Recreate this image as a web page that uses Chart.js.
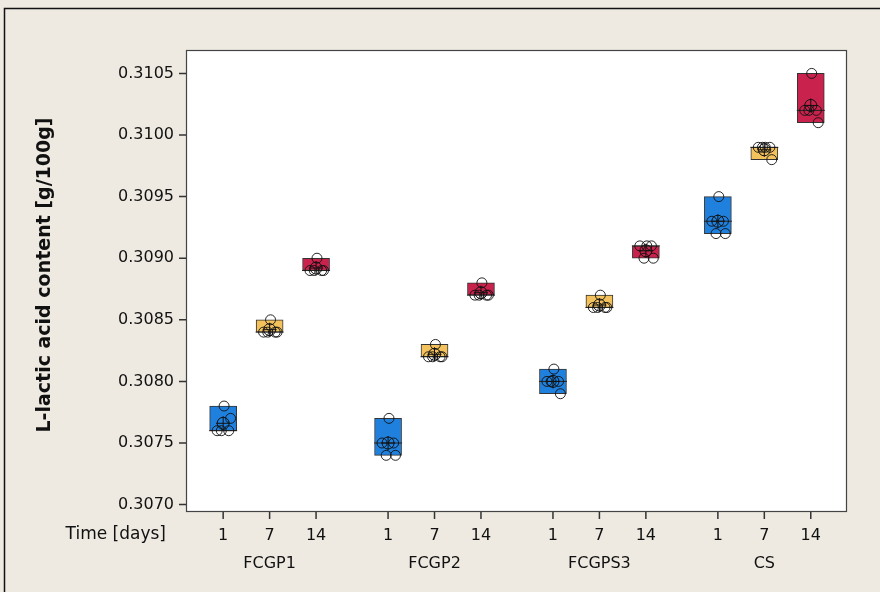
<!DOCTYPE html>
<html>
<head>
<meta charset="utf-8">
<script src="https://cdn.jsdelivr.net/npm/chart.js@4.4.1/dist/chart.umd.min.js"></script>
<style>
  html, body { margin: 0; padding: 0; background: #EEEAE1; }
  #wrap { width: 880px; height: 592px; position: relative; }
</style>
</head>
<body>
<div id="wrap"><canvas id="c" width="880" height="592"></canvas></div>
<script>
// Samples and storage times
const groups = ["FCGP1", "FCGP2", "FCGPS3", "CS"];
const days = ["1", "7", "14"];
const yTicks = [0.3070, 0.3075, 0.3080, 0.3085, 0.3090, 0.3095, 0.3100, 0.3105];

// Individual measurements, one list per sample (days 1, 7, 14)
const FCGP1 = [
  [0.3078, 0.3076, 0.3076, 0.3076, 0.3077],
  [0.3085, 0.3084, 0.3084, 0.3084, 0.3084],
  [0.3090, 0.3089, 0.3089, 0.3089, 0.3089]
];
const FCGP2 = [
  [0.3077, 0.3075, 0.3075, 0.3074, 0.3074],
  [0.3083, 0.3082, 0.3082, 0.3082, 0.3082],
  [0.3088, 0.3087, 0.3087, 0.3087, 0.3087]
];
const FCGPS3 = [
  [0.3081, 0.3080, 0.3080, 0.3080, 0.3079],
  [0.3087, 0.3086, 0.3086, 0.3086, 0.3086],
  [0.3091, 0.3091, 0.3091, 0.3090, 0.3090]
];
const CS = [
  [0.3095, 0.3093, 0.3093, 0.3092, 0.3092],
  [0.3099, 0.3099, 0.3099, 0.3099, 0.3098],
  [0.3105, 0.3102, 0.3102, 0.3102, 0.3101]
];
// Box limits (lower, upper) per sample and day
const boxLow  = [[0.3076, 0.3084, 0.3089], [0.3074, 0.3082, 0.3087], [0.3079, 0.3086, 0.3090], [0.3092, 0.3098, 0.3101]];
const boxHigh = [[0.3078, 0.3085, 0.3090], [0.3077, 0.3083, 0.3088], [0.3081, 0.3087, 0.3091], [0.3095, 0.3099, 0.3105]];

const samples = [FCGP1, FCGP2, FCGPS3, CS];
const dayColors = ["#1F80DE", "#F4C25C", "#C8224D"];

// x layout: days 1 unit apart, samples spaced further apart
const GROUP_STEP = 3.55;
const xPos = (g, d) => g * GROUP_STEP + d;
const jitter = [0.02, -0.13, 0.12, -0.04, 0.16];

const mean = a => a.reduce((s, v) => s + v, 0) / a.length;
const median = a => { const s = [...a].sort((p, q) => p - q); const m = Math.floor(s.length / 2); return s.length % 2 ? s[m] : (s[m - 1] + s[m]) / 2; };

const boxData = [], boxColors = [], pts = [], means = [], medians = [], tickPos = [];
samples.forEach((s, g) => s.forEach((vals, d) => {
  const x = xPos(g, d);
  tickPos.push(x);
  boxData.push({ x: x, y: [boxLow[g][d], boxHigh[g][d]] });
  boxColors.push(dayColors[d]);
  vals.forEach((v, k) => pts.push({ x: x + jitter[k], y: v }));
  means.push({ x: x, y: mean(vals) });
  medians.push({ x: x, y: median(vals) });
}));

const FONT = "'DejaVu Sans', Tahoma, sans-serif";

const frame = {
  id: "frame",
  beforeDraw(chart) {
    const { ctx, chartArea: a } = chart;
    ctx.save();
    ctx.fillStyle = "#EEEAE1";
    ctx.fillRect(0, 0, chart.width, chart.height);
    ctx.strokeStyle = "#111";
    ctx.lineWidth = 1.5;
    ctx.beginPath();
    ctx.moveTo(4.5, chart.height); ctx.lineTo(4.5, 8.5); ctx.lineTo(chart.width, 8.5);
    ctx.stroke();
    ctx.fillStyle = "#FFFFFF";
    ctx.fillRect(a.left, a.top, a.right - a.left, a.bottom - a.top);
    ctx.restore();
  },
  afterDraw(chart) {
    const { ctx, chartArea: a, scales } = chart;
    ctx.save();
    ctx.strokeStyle = "#444";
    ctx.lineWidth = 1.2;
    ctx.strokeRect(a.left + 0.5, a.top + 0.5, a.right - a.left - 1, a.bottom - a.top - 1);
    // outward tick marks
    ctx.strokeStyle = "#333333";
    ctx.lineWidth = 1.5;
    ctx.beginPath();
    for (const v of tickPos) {
      const px = scales.x.getPixelForValue(v);
      ctx.moveTo(px, a.bottom);
      ctx.lineTo(px, a.bottom + 7);
    }
    for (const v of yTicks) {
      const py = scales.y.getPixelForValue(v);
      ctx.moveTo(a.left - 7, py);
      ctx.lineTo(a.left, py);
    }
    ctx.stroke();
    ctx.fillStyle = "#111";
    ctx.font = "17px " + FONT;
    ctx.textBaseline = "middle";
    ctx.textAlign = "right";
    ctx.fillText("Time [days]", 166, 535);
    ctx.textAlign = "center";
    ctx.font = "16px " + FONT;
    groups.forEach((name, g) => {
      ctx.fillText(name, scales.x.getPixelForValue(xPos(g, 1)), 564);
    });
    ctx.translate(45, 275);
    ctx.rotate(-Math.PI / 2);
    ctx.font = "bold 19px " + FONT;
    ctx.fillText("L-lactic acid content [g/100g]", 0, 0);
    ctx.restore();
  }
};

new Chart(document.getElementById("c"), {
  data: {
    datasets: [
      { type: "bar", data: boxData, backgroundColor: boxColors, borderColor: "#333", borderWidth: 1,
        borderSkipped: false, barThickness: 27, order: 4 },
      { type: "scatter", data: medians, pointStyle: "line", pointRadius: 14, borderColor: "#222",
        borderWidth: 1, order: 3 },
      { type: "scatter", data: pts, pointStyle: "circle", pointRadius: 5, backgroundColor: "rgba(0,0,0,0)",
        borderColor: "#111", borderWidth: 0.9, order: 2 },
      { type: "scatter", data: means, pointStyle: "circle", pointRadius: 6, backgroundColor: "rgba(0,0,0,0)",
        borderColor: "#111", borderWidth: 1, order: 1 },
      { type: "scatter", data: means, pointStyle: "cross", pointRadius: 7, borderColor: "#111",
        borderWidth: 1, order: 0 }
    ]
  },
  options: {
    responsive: false,
    animation: false,
    events: [],
    layout: { padding: { top: 50, right: 33, left: 0, bottom: 0 } },
    plugins: { legend: { display: false }, tooltip: { enabled: false } },
    scales: {
      x: {
        type: "linear", offset: false, min: -0.8, max: 3 * GROUP_STEP + 2 + 0.78,
        afterBuildTicks: s => { s.ticks = tickPos.map(v => ({ value: v })); },
        afterFit: s => { s.height = 80; },
        grid: { display: false },
        border: { display: false },
        ticks: { autoSkip: false, maxRotation: 0, padding: 6, color: "#111",
          font: { family: FONT, size: 16 },
          callback: (v, i) => days[i % 3] }
      },
      y: {
        type: "linear", min: 0.30694, max: 0.31069,
        afterBuildTicks: s => { s.ticks = yTicks.map(v => ({ value: v })); },
        afterFit: s => { s.width = 186; },
        grid: { display: false },
        border: { display: false },
        ticks: { padding: 4, color: "#111", font: { family: FONT, size: 16 },
          callback: v => Number(v).toFixed(4) }
      }
    }
  },
  plugins: [frame]
});
</script>
</body>
</html>
